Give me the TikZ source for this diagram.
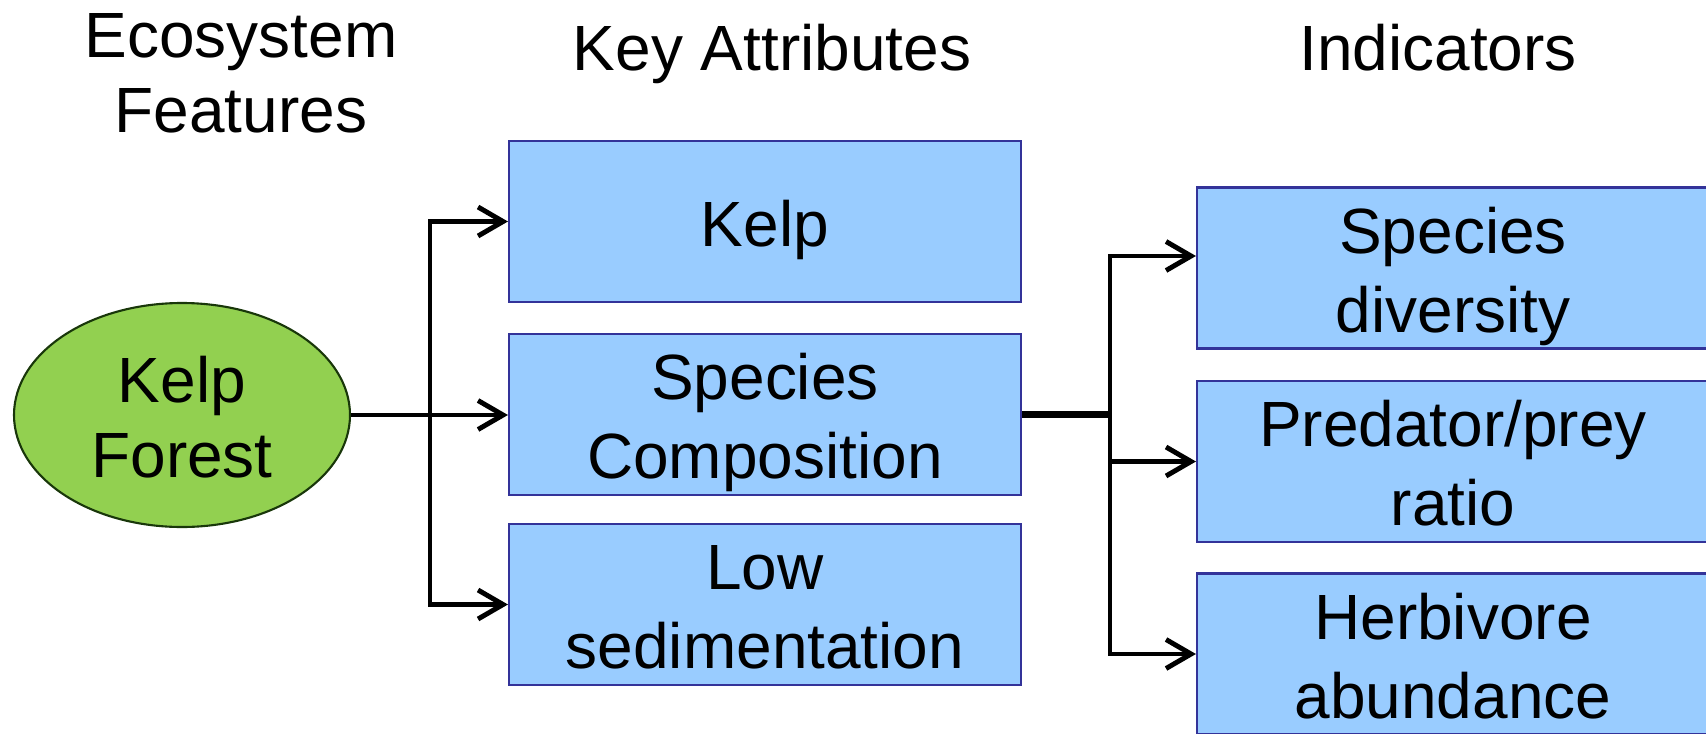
\documentclass[tikz,border=0pt]{standalone}
\usepackage{fontspec}
\setmainfont{Liberation Sans}
\usetikzlibrary{arrows.meta,shapes.geometric}

\definecolor{boxblue}{RGB}{153,204,255}
\definecolor{boxline}{RGB}{51,51,153}
\definecolor{kelpgreen}{RGB}{146,208,80}
\definecolor{kelpline}{RGB}{25,55,10}

% Stuetzen fuer die Zeilen in den Kaesten
\newcommand{\topst}{\rule{0pt}{1.0em}}
\newcommand{\botst}{\rule[-0.22em]{0pt}{0pt}}

\begin{document}
\begin{tikzpicture}
		[
		x=1cm, y=1cm, font=\fontsize{18.2}{21.4}\selectfont,
		>={Straight Barb[length=2.5mm,width=2.9mm,line width=1.4pt]}
		%Voreinstellung fuer Pfeilspitzen
		]
		
		\tikzset{
			attr/.style={rectangle, draw=boxline, line width=0.6pt, fill=boxblue,
				minimum width=5.12cm, minimum height=1.61cm, align=center, inner sep=0pt,
				font=\fontsize{18.2}{22.5}\selectfont},
			feature/.style={ellipse, draw=kelpline, line width=0.6pt, fill=kelpgreen,
				minimum width=3.36cm, minimum height=2.24cm, align=center, inner sep=0pt},
			head/.style={align=center},
			arr/.style={->, line width=1.4pt}
		}
		
		%Rahmen des Bildes
		\useasboundingbox (0,0) rectangle (17.06,-7.33);
		
		%Ueberschriften
		\node[head] (hfeat) at (2.41,-0.735) {Ecosystem\\Features};
		\node[head] (hattr) at (7.72,-0.54) {Key Attributes};
		\node[head] (hind) at (14.38,-0.48) {Indicators};
		
		%Ellipse links
		\node[feature] (kelpforest) at (1.82,-4.15) {\topst Kelp\\Forest\botst};
		
		%Key Attributes
		\node[attr] (kelp) at (7.65,-2.215) {\topst Kelp\botst};
		\node[attr] (comp) at (7.65,-4.145) {\topst Species\\Composition\botst};
		\node[attr] (sed) at (7.65,-6.045) {\topst Low\\sedimentation\botst};
		
		%Indikatoren (rechts abgeschnitten)
		\node[attr] (div) at (14.53,-2.68) {\topst Species\\diversity\botst};
		\node[attr] (pred) at (14.53,-4.615) {\topst Predator/prey\\ratio\botst};
		\node[attr] (herb) at (14.53,-6.54) {\topst Herbivore\\abundance\botst};
		
		%Verzweigung links
		\coordinate (forkA) at (4.30,-4.15);
		\draw[line width=1.4pt] (kelpforest.east) -- (forkA);
		\draw[arr] (forkA) |- (kelp.west);
		\draw[arr] (forkA) -- (forkA -| comp.west);
		\draw[arr] (forkA) |- (sed.west);
		
		%Verzweigung rechts
		\coordinate (forkB) at (11.10,-4.145);
		\draw[line width=1.9pt] (comp.east) -- (forkB);
		\draw[arr] (forkB) |- ([yshift=1.2mm]div.west);
		\draw[arr] (forkB) |- (pred.west);
		\draw[arr] (forkB) |- (herb.west);
		
\end{tikzpicture}
\end{document}
